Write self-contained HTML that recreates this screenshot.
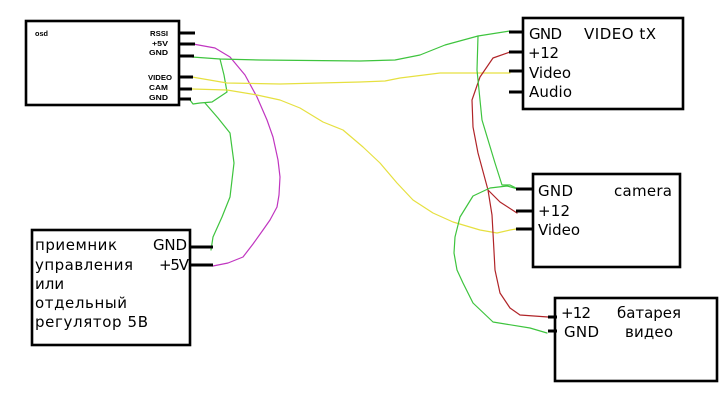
<!DOCTYPE html>
<html>
<head>
<meta charset="utf-8">
<style>
html,body{margin:0;padding:0;background:#fff;}
svg{display:block;}
text{fill:#000;}
.t{font-family:"DejaVu Sans","Liberation Sans",sans-serif;font-size:15px;}
.s{font-family:"Liberation Sans","DejaVu Sans",sans-serif;font-size:7.5px;font-weight:bold;}
</style>
</head>
<body>
<svg width="721" height="402" viewBox="0 0 721 402" xmlns="http://www.w3.org/2000/svg">
<rect x="0" y="0" width="721" height="402" fill="#fff"/>

<!-- wires -->
<g fill="none" stroke-width="1.2" stroke-linejoin="round" stroke-linecap="round">
  <polyline stroke="#c035c0" points="193,44 215,48 230,57 245,75 257,97 267,120 273,137 278,160 280,177 279,195 277,207 270,220 263,230 253,244 243,257 228,263 213,266"/>
  <polyline stroke="#3ec43e" points="192,57 220,59 260,60 360,61 395,60 420,55 445,45 478,36 510,31"/>
  <polyline stroke="#3ec43e" points="220,59 224,75 227,92 212,102 200,103 193,104 190,100"/>
  <polyline stroke="#3ec43e" points="205,103 218,118 230,133 234,163 232,180 230,197 222,217 213,237 211,250"/>
  <polyline stroke="#e6e040" points="192,77 227,83 280,84 360,82 385,81 400,78 440,73 510,73"/>
  <polyline stroke="#e6e040" points="192,89 227,90 257,95 280,100 300,108 323,122 343,130 363,147 380,163 397,183 413,200 433,213 453,222 480,230 497,233 510,230 516,229"/>
  <polyline stroke="#b02428" points="510,52 493,58 480,77 472,100 473,127 478,153 488,190 500,202 517,213"/>
  <polyline stroke="#b02428" points="488,190 492,215 493,233 495,270 500,293 510,308 520,315 548,317"/>
  <polyline stroke="#3ec43e" points="478,36 477,70 482,120 495,163 502,185 510,185 518,189"/>
  <polyline stroke="#3ec43e" points="518,189 507,186 490,188 473,196 460,217 455,237 454,253 457,270 463,283 473,303 493,322 530,328 547,333"/>
</g>

<!-- boxes -->
<g fill="none" stroke="#000" stroke-width="2.6">
  <rect x="26" y="21" width="153" height="84"/>
  <rect x="523" y="18" width="160" height="91"/>
  <rect x="533" y="174" width="147" height="93"/>
  <rect x="555" y="298" width="162" height="83"/>
  <rect x="32" y="230" width="158" height="115"/>
</g>

<!-- pins -->
<g stroke="#000" stroke-width="3">
  <line x1="178" y1="33" x2="195" y2="33"/>
  <line x1="178" y1="44" x2="195" y2="44"/>
  <line x1="178" y1="56" x2="194" y2="56"/>
  <line x1="178" y1="77" x2="193" y2="77"/>
  <line x1="178" y1="89" x2="192" y2="89"/>
  <line x1="178" y1="99" x2="191" y2="99"/>

  <line x1="509" y1="32" x2="524" y2="32"/>
  <line x1="509" y1="52" x2="524" y2="52"/>
  <line x1="509" y1="71" x2="524" y2="71"/>
  <line x1="509" y1="92" x2="524" y2="92"/>

  <line x1="516" y1="189" x2="534" y2="189"/>
  <line x1="516" y1="211" x2="534" y2="211"/>
  <line x1="516" y1="229" x2="534" y2="229"/>

  <line x1="548" y1="317" x2="557" y2="317"/>
  <line x1="548" y1="331" x2="557" y2="331"/>

  <line x1="189" y1="247" x2="213" y2="247"/>
  <line x1="189" y1="265" x2="213" y2="265"/>
</g>

<!-- OSD labels -->
<text class="s" x="35" y="36" textLength="13" lengthAdjust="spacingAndGlyphs" style="font-size:7px">osd</text>
<text class="s" x="150" y="36" textLength="18" lengthAdjust="spacingAndGlyphs">RSSI</text>
<text class="s" x="152" y="46" textLength="16" lengthAdjust="spacingAndGlyphs">+5V</text>
<text class="s" x="149" y="55" textLength="19" lengthAdjust="spacingAndGlyphs">GND</text>
<text class="s" x="148" y="80" textLength="24" lengthAdjust="spacingAndGlyphs">VIDEO</text>
<text class="s" x="149" y="90" textLength="19" lengthAdjust="spacingAndGlyphs">CAM</text>
<text class="s" x="149" y="100" textLength="19" lengthAdjust="spacingAndGlyphs">GND</text>

<!-- VIDEO tX -->
<text class="t" x="529" y="39" textLength="33" lengthAdjust="spacing">GND</text>
<text class="t" x="584" y="39" textLength="72" lengthAdjust="spacing">VIDEO tX</text>
<text class="t" x="528" y="58" textLength="31" lengthAdjust="spacing">+12</text>
<text class="t" x="529" y="78" textLength="42" lengthAdjust="spacing">Video</text>
<text class="t" x="529" y="97" textLength="43" lengthAdjust="spacing">Audio</text>

<!-- camera -->
<text class="t" x="538" y="196" textLength="35" lengthAdjust="spacing">GND</text>
<text class="t" x="614" y="196" textLength="58" lengthAdjust="spacing">camera</text>
<text class="t" x="538" y="216" textLength="32" lengthAdjust="spacing">+12</text>
<text class="t" x="538" y="235" textLength="42" lengthAdjust="spacing">Video</text>

<!-- battery -->
<text class="t" x="561" y="318" textLength="30" lengthAdjust="spacing">+12</text>
<text class="t" x="617" y="318" textLength="64" lengthAdjust="spacing">батарея</text>
<text class="t" x="564" y="337" textLength="35" lengthAdjust="spacing">GND</text>
<text class="t" x="625" y="337" textLength="48" lengthAdjust="spacing">видео</text>

<!-- receiver -->
<text class="t" x="35" y="250" textLength="82" lengthAdjust="spacing">приемник</text>
<text class="t" x="153" y="250" textLength="34" lengthAdjust="spacing">GND</text>
<text class="t" x="35" y="270" textLength="98" lengthAdjust="spacing">управления</text>
<text class="t" x="159" y="270" textLength="30" lengthAdjust="spacing">+5V</text>
<text class="t" x="35" y="289">или</text>
<text class="t" x="35" y="308" textLength="92" lengthAdjust="spacing">отдельный</text>
<text class="t" x="35" y="327" textLength="113" lengthAdjust="spacing">регулятор 5В</text>
</svg>
</body>
</html>
